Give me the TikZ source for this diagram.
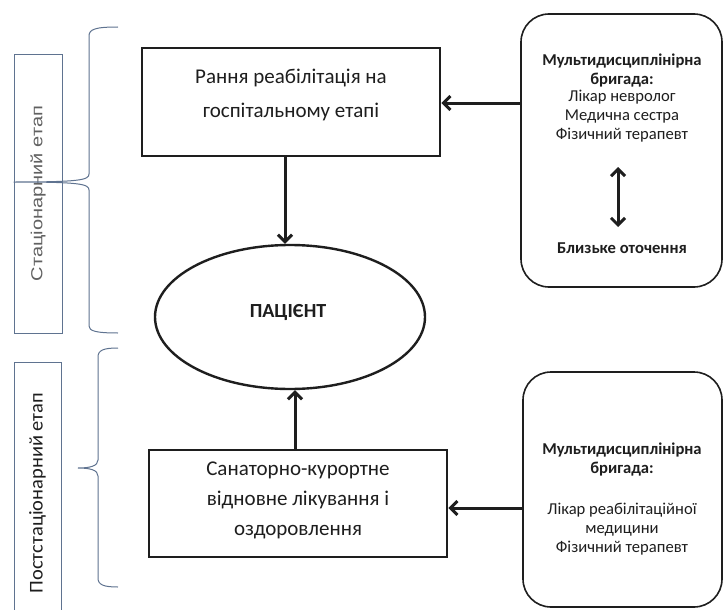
\documentclass[tikz,border=0pt]{standalone}
\usepackage{fontspec}
\setmainfont{Carlito}
\newfontfamily\arialf[FakeStretch=1.25]{Liberation Sans}
\newfontfamily\postf[FakeStretch=1.05]{Carlito}
\usetikzlibrary{arrows.meta,shapes.geometric,calc}
\definecolor{ink}{HTML}{1E1E1E}
\definecolor{brc}{HTML}{5F7390}
\begin{document}
\begin{tikzpicture}[x=1pt,y=-1pt,
  box/.style={draw=ink,line width=2.6pt,inner sep=0pt,minimum width=298pt},
  rbox/.style={draw=ink,line width=1.6pt,rounded corners=28pt,inner sep=0pt},
  stagebox/.style={draw=brc,line width=0.8pt,rotate=90,inner sep=0pt},
  brace/.style={draw=brc,line width=1pt},
  tip/.tip={Straight Barb[length=7pt,width=14pt]},
  arr/.style={draw=ink,line width=3pt,-tip},
  darr/.style={draw=ink,line width=3pt,tip-tip},
  big/.style={text=ink,align=center,font=\fontsize{21}{33.5}\selectfont},
  small/.style={text=ink,align=center,font=\fontsize{16.6}{18.8}\selectfont},
]
\useasboundingbox (0,0) rectangle (723,610);
\fill[white] (0,0) rectangle (723,610);

% left stage boxes
\node[stagebox,minimum width=279pt,minimum height=48pt] (stat) at (38,193.5)
  {\arialf\fontsize{16}{18}\selectfont\color{black!62}Стаціонарний етап};
\node[stagebox,minimum width=262pt,minimum height=47pt] (post) at (37.5,493)
  {\postf\fontsize{19.5}{20}\selectfont\color{ink}Постстаціонарний етап};

% braces
\coordinate (b1) at (stat.north);
\draw[brace] (118,27) .. controls (96,27) and (89,29) .. (89,36) -- (89,174)
  .. controls (89,180) and (80,182) .. (b1 |- 0,182)
  .. controls (80,182) and (89,184) .. (89,190) -- (89,326)
  .. controls (89,331) and (96,333) .. (118,333);
\draw[brace] (118,348) .. controls (104,348) and (98,350) .. (98,357) -- (98,460)
  .. controls (98,466) and (90,468) .. (78,468)
  .. controls (90,468) and (98,470) .. (98,476) -- (98,578)
  .. controls (98,585) and (104,587) .. (118,587);

% main column
\node[box,minimum height=108pt] (early) at (291,102) {};
\node[big] (earlyt) at (291,95) {Рання реабілітація на\\госпітальному етапі};
\node[draw=ink,line width=2.4pt,ellipse,minimum width=270pt,minimum height=144pt,inner sep=0pt]
  (patient) at (290,317) {};
\node[text=ink,font=\fontsize{20}{22}\selectfont\bfseries] (patientt) at (288,312) {ПАЦІЄНТ};
\node[box,minimum height=107pt] (sanat) at (298,503.5) {};
\node[big,font=\fontsize{21}{30}\selectfont] (sanatt) at (298,500)
  {Санаторно-курортне\\відновне лікування і\\оздоровлення};

\draw[arr] (early.south -| 285,0) -- (patient.north -| 285,0);
\draw[arr] (sanat.north -| 295,0) -- (patient.south -| 295,0);

% right boxes
\node[rbox,minimum width=201pt,minimum height=273pt] (team1) at (621.5,150.5) {};
\node[small] (team1t) at (622,98)
  {\textbf{Мультидисциплінірна}\\\textbf{бригада:}\\[-2pt]Лікар невролог\\Медична сестра\\Фізичний терапевт};
\node[small,font=\fontsize{16.6}{18.8}\selectfont\bfseries] (close) at (622,248) {Близьке оточення};
\draw[darr] (618,167) coordinate (d1) -- (618,227) coordinate (d2);

\node[rbox,minimum width=199pt,minimum height=235pt] (team2) at (622.5,489.5) {};
\node[small] (team2t) at (622,499)
  {\textbf{Мультидисциплінірна}\\\textbf{бригада:}\\[23pt]Лікар реабілітаційної\\медицини\\Фізичний терапевт};

\draw[arr] (team1.west |- 0,103) -- (early.east |- 0,103);
\draw[arr] (team2.west |- 0,508) -- (sanat.east |- 0,508);
\end{tikzpicture}
\end{document}
